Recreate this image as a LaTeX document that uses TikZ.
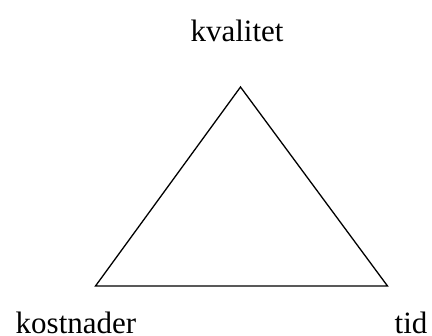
\documentclass[tikz,border=0pt]{standalone}
\usepackage{fontspec}
\setmainfont{Liberation Serif}
\begin{document}
\begin{tikzpicture}[x=1bp,y=-1bp,
  lbl/.style={inner sep=0pt,anchor=base,font=\fontsize{31bp}{36bp}\selectfont},
  edge/.style={line width=1.3bp,line join=miter}]
\useasboundingbox (0,0) rectangle (432,336);
\coordinate (top) at (240.5,87);
\coordinate (left) at (95.5,286);
\coordinate (right) at (387.5,286);
\draw[edge] (top) -- (right) -- (left) -- cycle;
\node[lbl] (kval) at (237,41) {kvalitet};
\node[lbl] (kost) at (76,333) {kostnader};
\node[lbl] (tid) at (411,333) {tid};
\end{tikzpicture}
\end{document}
